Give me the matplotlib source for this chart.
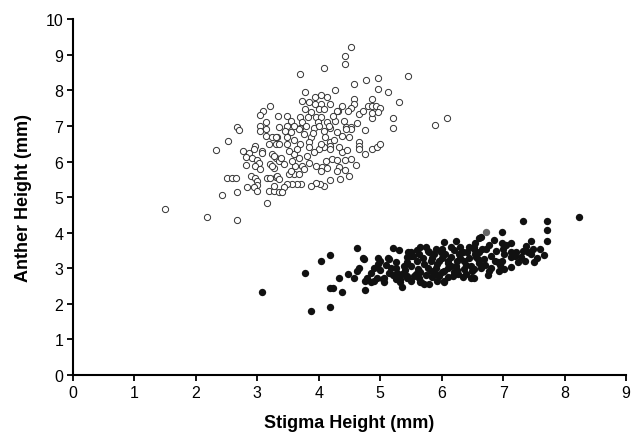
import matplotlib
matplotlib.use("Agg")
import matplotlib.pyplot as plt

plt.rcParams['font.family'] = ['Liberation Sans', 'DejaVu Sans']

# open circles (upper cluster)
open_x = [1.49, 2.18, 2.67, 2.43, 2.67, 2.50, 2.58, 2.65, 2.32, 2.52, 2.67, 3.16,
          4.52, 4.43, 4.43, 5.45, 4.08, 3.69, 4.77, 4.96, 4.57, 4.27, 4.96, 5.12,
          5.31, 5.20, 5.20, 5.89, 6.09, 4.76, 4.87, 4.80, 4.87, 4.93, 5.00, 4.86,
          4.86, 4.97, 4.57, 4.57, 4.52, 4.37, 4.32, 4.47, 4.65, 4.72, 4.62, 4.27,
          4.41, 4.44, 4.52, 3.78, 3.73, 3.84, 3.94, 4.03, 4.13, 3.94, 4.03, 4.18,
          3.77, 3.87, 4.00, 4.08, 4.30, 3.09, 3.05, 3.20, 3.14, 3.34, 3.49, 3.54,
          3.70, 3.73, 3.82, 3.95, 4.03, 3.98, 4.14, 4.23, 2.70, 3.05, 3.14, 3.35,
          3.49, 3.69, 3.92, 4.19, 3.05, 3.14, 3.24, 3.32, 3.19, 3.30, 2.96, 2.77,
          2.86, 2.94, 3.07, 3.07, 2.82, 2.92, 3.24, 3.30, 3.00, 3.02, 2.81, 2.96,
          3.05, 3.21, 3.27, 3.35, 2.89, 2.96, 3.00, 3.00, 2.84, 2.94, 3.00, 3.15,
          3.21, 3.30, 3.19, 3.27, 3.27, 3.35, 4.86, 4.65, 4.65, 4.65, 4.52, 4.42,
          4.42, 4.33, 4.18, 4.08, 4.02, 3.96, 3.88, 3.71, 3.65, 3.57, 3.49, 3.44,
          3.40, 3.59, 3.68, 3.51, 3.32, 3.35, 3.54, 3.62, 3.73, 3.84, 3.95, 4.06,
          4.11, 4.22, 4.30, 4.37, 4.33, 4.46, 4.49, 4.38, 4.52, 4.44, 4.19, 4.18,
          4.18, 4.08, 4.00, 4.03, 3.87, 3.84, 3.84, 3.92, 3.81, 3.68, 3.59, 3.51,
          3.49, 3.49, 3.54, 3.68, 3.76, 4.08, 4.16, 4.30, 3.30, 3.35, 3.27, 3.38,
          3.24, 3.43, 3.57, 3.76, 4.03, 4.14, 4.30, 4.95, 5.00, 4.75, 4.60, 4.50,
          4.35, 3.60, 3.70, 3.90, 4.00, 3.80, 3.60, 4.10, 4.25, 3.45, 3.65]
open_y = [4.67, 4.43, 4.35, 5.06, 5.15, 5.55, 5.55, 5.55, 6.33, 6.58, 6.98, 4.83,
          9.22, 8.97, 8.73, 8.39, 8.62, 8.47, 8.30, 8.34, 8.19, 8.00, 8.03, 7.96,
          7.66, 7.22, 6.93, 7.03, 7.22, 6.89, 7.75, 7.55, 7.55, 7.55, 7.50, 7.22,
          7.36, 7.39, 7.75, 7.61, 7.50, 7.56, 7.42, 7.42, 7.33, 7.42, 7.07, 7.13,
          7.13, 6.96, 6.96, 7.96, 7.71, 7.66, 7.80, 7.87, 7.80, 7.61, 7.61, 7.61,
          7.47, 7.38, 7.47, 7.47, 7.42, 7.42, 7.31, 7.56, 7.12, 7.27, 7.27, 7.14,
          7.24, 7.10, 7.24, 7.26, 7.26, 7.12, 7.10, 7.27, 6.89, 6.99, 6.91, 6.96,
          6.99, 6.93, 6.93, 6.93, 6.86, 6.72, 6.68, 6.69, 6.49, 6.49, 6.44, 6.30,
          6.24, 6.35, 6.30, 6.24, 6.14, 6.11, 6.21, 6.09, 6.05, 5.97, 5.91, 5.88,
          5.79, 5.93, 5.83, 6.02, 5.60, 5.55, 5.44, 5.34, 5.27, 5.27, 5.18, 5.53,
          5.55, 5.57, 5.18, 5.18, 5.32, 5.13, 6.35, 6.54, 6.44, 6.35, 6.07, 6.04,
          5.76, 5.85, 5.48, 5.32, 5.37, 5.41, 5.32, 5.37, 5.37, 5.37, 5.37, 5.27,
          5.13, 5.66, 5.66, 5.66, 5.60, 5.52, 5.74, 5.88, 5.88, 5.97, 5.88, 5.85,
          6.02, 6.07, 6.04, 6.26, 6.40, 6.32, 6.68, 6.72, 6.91, 6.91, 6.54, 6.44,
          6.35, 6.40, 6.35, 6.49, 6.68, 6.54, 6.41, 6.26, 6.16, 6.11, 6.21, 6.30,
          6.49, 6.68, 6.82, 6.91, 6.77, 6.86, 7.00, 6.82, 6.68, 6.49, 6.16, 6.11,
          5.88, 5.93, 6.02, 5.79, 5.74, 5.83, 5.74, 6.40, 6.50, 6.20, 5.90, 5.60,
          5.50, 6.60, 6.50, 6.80, 7.00, 7.00, 7.00, 6.70, 6.60, 6.85, 6.35]

# filled dots (lower cluster)
filled_x = [3.08, 3.78, 3.88, 4.04, 4.18, 4.18, 4.23, 4.18, 4.33, 4.38, 4.48, 4.57,
            4.63, 4.63, 4.73, 4.76, 4.76, 4.85, 4.79, 4.94, 4.96, 4.96, 5.04, 5.06,
            5.13, 5.20, 5.31, 5.14, 5.25, 5.25, 5.33, 5.35, 5.33, 5.44, 5.44, 5.50,
            5.64, 5.64, 5.71, 5.58, 5.77, 5.80, 5.96, 6.04, 6.04, 6.23, 6.18, 5.91,
            4.72, 5.14, 5.44, 5.53, 5.63, 5.77, 5.88, 5.99, 6.15, 6.29, 6.42, 6.53,
            6.61, 6.59, 6.48, 6.37, 6.26, 6.48, 6.15, 6.04, 5.93, 5.82, 5.71, 5.61,
            5.55, 5.66, 5.80, 5.93, 6.04, 5.44, 5.28, 5.17, 5.06, 4.90, 5.50, 5.39,
            5.63, 5.82, 6.10, 6.23, 6.37, 6.50, 7.33, 7.72, 7.72, 7.72, 7.67, 6.98,
            6.64, 7.46, 7.13, 6.98, 6.77, 6.53, 7.37, 7.48, 7.32, 7.21, 7.13, 7.02,
            6.88, 6.72, 6.61, 7.46, 7.29, 7.13, 6.99, 6.86, 6.69, 6.56, 7.51, 7.13,
            7.02, 6.94, 6.77, 6.64, 6.53, 6.53, 6.91, 7.24, 8.24, 6.20, 6.30, 6.40,
            6.10, 6.00, 6.30, 6.45, 6.20, 6.35, 6.10, 5.90, 6.00, 5.70, 5.60, 5.40,
            5.20, 5.00, 4.90, 5.85, 6.60, 6.80, 7.00, 7.35,
            5.50, 5.60, 5.75, 5.85, 5.95, 6.05, 6.15, 6.25, 6.35, 6.45, 6.55, 6.65,
            6.70, 6.80, 5.65, 5.75, 5.90, 6.00, 6.10, 6.25, 6.40, 5.50, 5.35, 5.25,
            5.10, 5.00, 4.85, 4.65, 5.45, 6.55, 6.85, 7.05, 7.20, 7.40, 7.55, 7.60,
            6.95, 6.75]
filled_y = [2.33, 2.86, 1.81, 3.21, 3.38, 2.44, 2.44, 1.92, 2.72, 2.34, 2.84, 2.72,
            3.57, 2.93, 3.26, 2.65, 2.40, 2.88, 2.74, 2.72, 3.28, 3.12, 2.70, 2.60,
            3.28, 3.57, 3.52, 2.88, 3.17, 3.00, 2.70, 2.46, 2.60, 2.79, 3.17, 3.35,
            3.61, 2.60, 2.56, 2.84, 3.02, 3.45, 2.79, 2.65, 3.73, 3.77, 2.79, 3.54,
            3.28, 3.26, 3.31, 3.35, 3.40, 3.49, 3.40, 3.45, 3.31, 3.40, 3.45, 3.54,
            3.85, 3.26, 3.07, 2.98, 2.84, 2.74, 3.07, 2.93, 3.12, 2.93, 3.12, 2.98,
            2.79, 2.60, 2.56, 2.65, 2.60, 2.74, 2.88, 3.02, 2.74, 2.65, 3.07, 3.07,
            2.74, 3.21, 3.21, 3.07, 3.21, 2.93, 4.33, 4.33, 4.07, 3.77, 3.38, 4.01,
            3.87, 3.77, 3.71, 3.71, 3.65, 3.60, 3.63, 3.54, 3.49, 3.47, 3.45, 3.40,
            3.49, 3.54, 3.45, 3.40, 3.31, 3.31, 3.21, 3.21, 3.26, 3.31, 3.17, 3.04,
            2.98, 2.93, 2.93, 3.02, 2.98, 2.72, 3.17, 3.17, 4.44, 3.50, 3.30, 3.10,
            3.00, 3.30, 3.60, 3.30, 2.90, 2.75, 2.75, 3.00, 3.55, 3.30, 3.20, 2.95,
            2.80, 2.95, 3.00, 2.75, 3.15, 3.35, 3.55, 3.20,
            3.45, 3.50, 3.60, 3.30, 3.20, 3.40, 3.60, 3.20, 3.45, 3.60, 3.40, 3.55,
            3.10, 3.00, 2.90, 2.80, 2.85, 2.90, 3.15, 2.95, 2.85, 2.65, 2.85, 2.70,
            3.10, 3.20, 2.60, 3.00, 3.45, 3.70, 3.80, 3.65, 3.35, 3.45, 3.30, 3.55,
            3.10, 2.80]

# one grey dot in the lower cluster
grey_x = [6.72]
grey_y = [4.01]

x_ticks = list(range(0, 10))
y_ticks = list(range(0, 11))

fig = plt.figure(figsize=(6.32, 4.35), dpi=100)
ax = fig.add_axes([0.1155, 0.1356, 0.875, 0.818])

ax.scatter(open_x, open_y, s=20, facecolors='white', edgecolors='#333333',
           linewidths=0.7, zorder=3)
ax.scatter(filled_x, filled_y, s=28, color='#111111', linewidths=0, zorder=3)
ax.scatter(grey_x, grey_y, s=28, color='#666666', linewidths=0, zorder=4)

ax.set_xlim(0, 9)
ax.set_ylim(0, 10)
ax.set_xticks(x_ticks)
ax.set_yticks(y_ticks)
ax.tick_params(direction='out', length=4, width=1.3, labelsize=11.5, pad=3)

for side in ['top', 'right']:
    ax.spines[side].set_visible(False)
for side in ['left', 'bottom']:
    ax.spines[side].set_linewidth(1.5)

ax.set_xlabel('Stigma Height (mm)', fontsize=13, fontweight='bold', labelpad=10)
ax.set_ylabel('Anther Height (mm)', fontsize=13, fontweight='bold', labelpad=10)

plt.savefig('out.png', dpi=100)
